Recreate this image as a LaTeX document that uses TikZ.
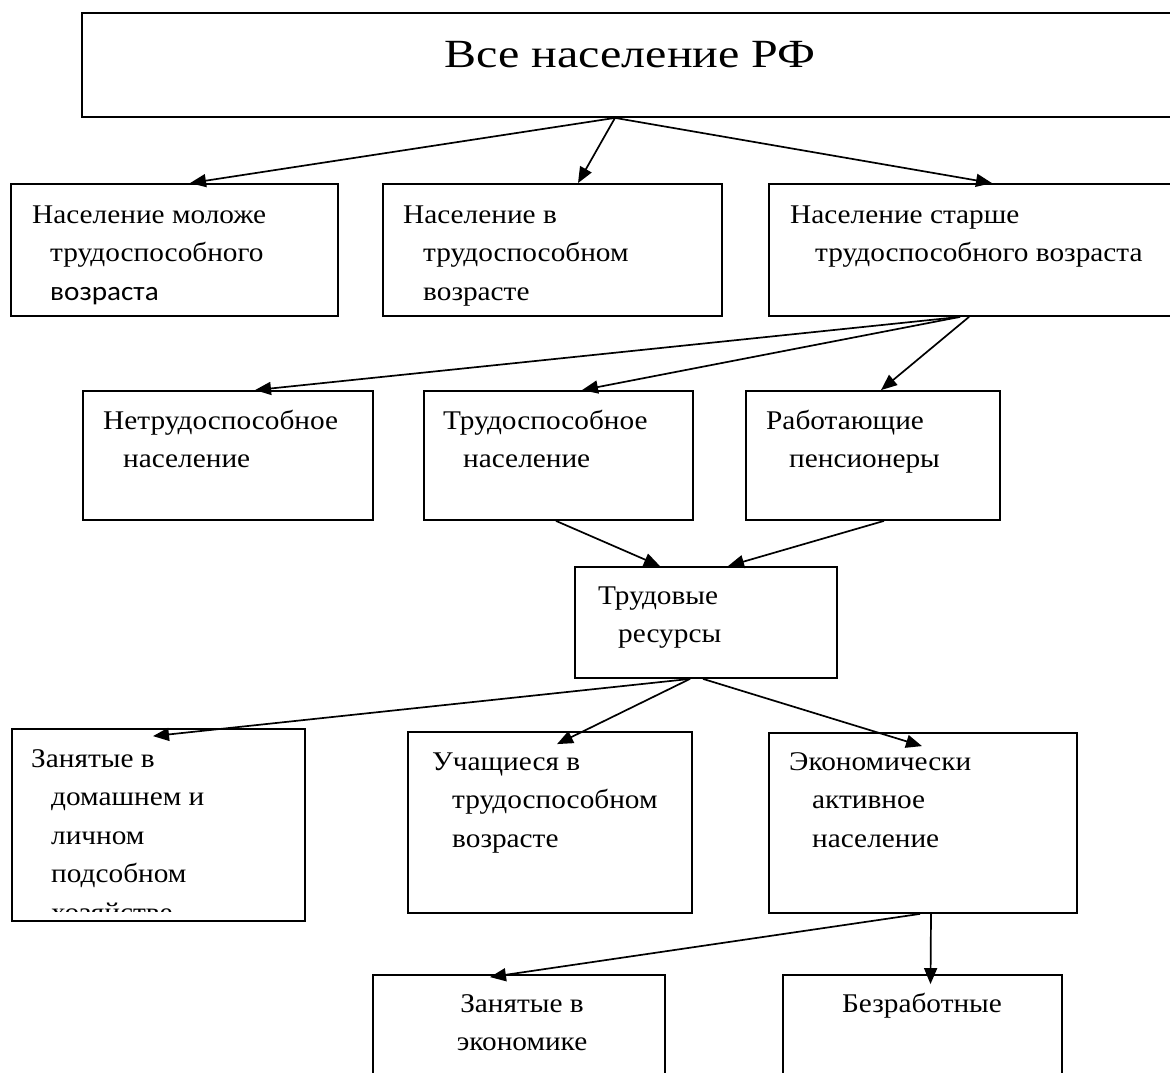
\documentclass[tikz,border=0pt]{standalone}
\usepackage{fontspec}
\setmainfont{Liberation Serif}
\newfontfamily\tnr[FakeStretch=1.085]{Liberation Serif}
\newfontfamily\tnrtitle[FakeStretch=1.2]{Liberation Serif}
\newfontfamily\calibri[FakeStretch=1.08]{Carlito}
\usetikzlibrary{arrows.meta}
\newcommand{\ind}{\hspace*{20pt}}
\newcommand{\lines}[1]{\begin{tabular}[t]{@{}l@{}}#1\end{tabular}}
\newcommand{\clines}[1]{\begin{tabular}[t]{@{}c@{}}#1\end{tabular}}

\begin{document}
\begin{tikzpicture}[x=1pt,y=-1pt,>={Triangle[length=16pt,width=13pt]},
  box/.style={draw,line width=1.8pt,inner sep=0pt},
  txt/.style={inner sep=0pt,anchor=base west,font=\tnr\fontsize{27}{38.5}\selectfont},
  arr/.style={->,line width=1.7pt}]
\clip (0,0) rectangle (1170,1073);
% boxes
\node[box,minimum width=1113pt,minimum height=104pt] (all) at (638.5,65) {};
\node[box,minimum width=327pt,minimum height=132pt] (young) at (174.5,250) {};
\node[box,minimum width=339pt,minimum height=132pt] (work) at (552.5,250) {};
\node[box,minimum width=426pt,minimum height=132pt] (old) at (982,250) {};
\node[box,minimum width=290pt,minimum height=129pt] (unable) at (228,455.5) {};
\node[box,minimum width=269pt,minimum height=129pt] (able) at (558.5,455.5) {};
\node[box,minimum width=254pt,minimum height=129pt] (pens) at (873,455.5) {};
\node[box,minimum width=262pt,minimum height=111pt] (res) at (706,622.5) {};
\node[box,minimum width=293pt,minimum height=192pt] (home) at (158.5,825) {};
\node[box,minimum width=284pt,minimum height=181pt] (study) at (550,822.5) {};
\node[box,minimum width=308pt,minimum height=180pt] (econ) at (923,823) {};
\node[box,minimum width=292pt,minimum height=145pt] (empl) at (519,1047.5) {};
\node[box,minimum width=279pt,minimum height=145pt] (unempl) at (922.5,1047.5) {};
% texts
\node[inner sep=0pt,anchor=base,font=\tnrtitle\fontsize{40}{46}\selectfont] (all-t) at (630,68) {Все население РФ};
\node[txt] (young-t) at (32,223) {\lines{Население моложе\\\hspace*{18pt}трудоспособного\\\hspace*{18pt}{\calibri возраста}}};
\node[txt] (work-t) at (403,223) {\lines{Население в\\\ind трудоспособном\\\ind возрасте}};
\node[txt] (old-t) at (790,223) {\lines{Население старше\\\hspace*{25pt}трудоспособного возраста}};
\node[txt] (unable-t) at (103,429) {\lines{Нетрудоспособное\\\ind население}};
\node[txt] (able-t) at (443,429) {\lines{Трудоспособное\\\ind население}};
\node[txt] (pens-t) at (766,429) {\lines{Работающие\\\hspace*{23pt}пенсионеры}};
\node[txt] (res-t) at (598,604) {\lines{Трудовые\\\ind ресурсы}};
\begin{scope}
\clip (home.north west) rectangle ([yshift=10pt]home.south east);
\node[txt] (home-t) at (31,767) {\lines{Занятые в\\\ind домашнем и\\\ind личном\\\ind подсобном\\\ind хозяйстве}};
\end{scope}
\node[txt] (study-t) at (432,770) {\lines{Учащиеся в\\\ind трудоспособном\\\ind возрасте}};
\node[txt] (econ-t) at (789,770) {\lines{Экономически\\\hspace*{23pt}активное\\\hspace*{23pt}население}};
\node[txt,anchor=base] (empl-t) at (522,1012) {\clines{Занятые в\\экономике}};
\node[txt,anchor=base] (unempl-t) at (922,1012) {Безработные};
% arrows
\draw[arr] ([xshift=-23.5pt]all.south) -- ([xshift=15.5pt]young.north);
\draw[arr] ([xshift=-23.5pt]all.south) -- ([xshift=25.5pt]work.north);
\draw[arr] ([xshift=-23.5pt]all.south) -- ([xshift=10pt]old.north);
\draw[arr] ([xshift=-22pt]old.south) -- ([xshift=27pt]unable.north);
\draw[arr] ([xshift=-22pt]old.south) -- ([xshift=23.5pt]able.north);
\draw[arr] ([xshift=-13pt]old.south) -- ([xshift=8pt]pens.north);
\draw[arr] ([xshift=-2.5pt]able.south) -- ([xshift=-46pt]res.north);
\draw[arr] ([xshift=11pt]pens.south) -- ([xshift=22pt]res.north);
\draw[arr] ([xshift=-16pt]res.south) -- ([xshift=-5.5pt,yshift=-8pt]home.north);
\draw[arr] ([xshift=-16pt]res.south) -- ([xshift=7pt,yshift=-13pt]study.north);
\draw[arr] ([xshift=-3pt]res.south) -- ([xshift=-1pt,yshift=-14pt]econ.north);
\draw[arr] ([xshift=-3pt]econ.south) -- ([xshift=-29pt,yshift=-3pt]empl.north);
\draw[arr] ([xshift=8pt]econ.south) -- ([xshift=8pt,yshift=-10pt]unempl.north);
\end{tikzpicture}
\end{document}
